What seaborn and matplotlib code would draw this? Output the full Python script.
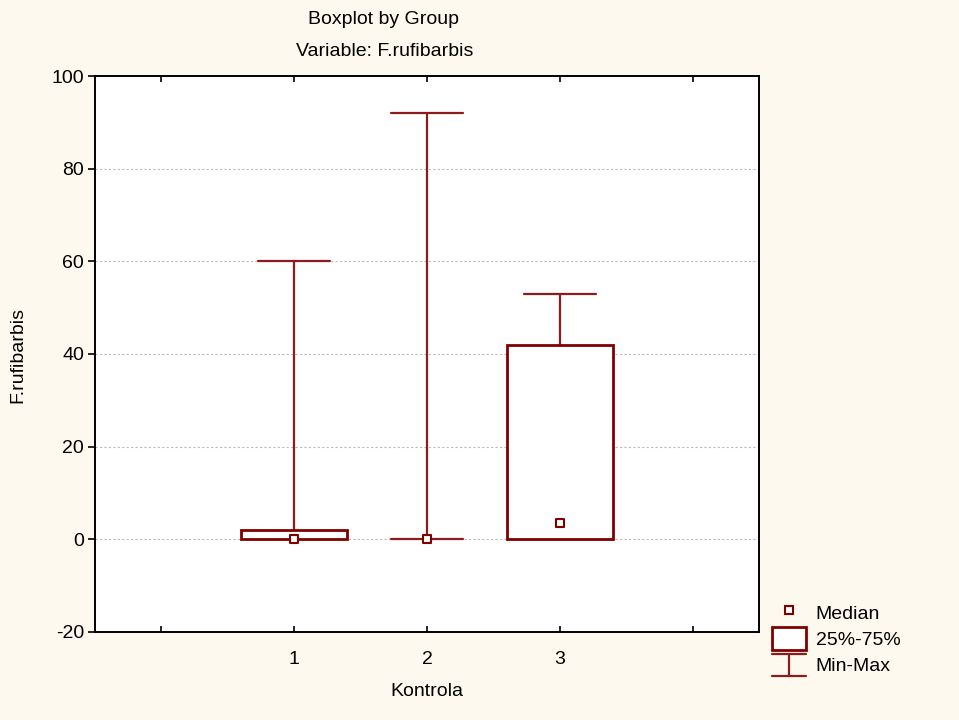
import matplotlib
matplotlib.use("Agg")
import matplotlib.pyplot as plt
from matplotlib.lines import Line2D
from matplotlib.patches import Patch
from matplotlib.legend_handler import HandlerBase
import seaborn as sns
import pandas as pd

# Summary statistics of F.rufibarbis per Kontrola group
groups = ["1", "2", "3"]
mins = [0, 0, 0]
q1 = [0, 0, 0]
medians = [0, 0, 3.6]
q3 = [2, 0, 42]
maxs = [60, 92, 53]

yticks = [-20, 0, 20, 40, 60, 80, 100]

sns.set_theme(style="white")
plt.rcParams["font.family"] = ["Liberation Sans", "DejaVu Sans"]
plt.rcParams["text.color"] = "black"
plt.rcParams["xtick.color"] = "black"
plt.rcParams["ytick.color"] = "black"

BG = "#FDF9EE"
BOX = "#800000"
WHISK = "#8E1B1B"
FS = 14

fig = plt.figure(figsize=(9.59, 7.2), dpi=100, facecolor=BG)
ax = fig.add_axes([95 / 959, 1 - 632 / 720, (759 - 95) / 959, (632 - 76) / 720])
ax.set_facecolor("white")

pos = [int(g) for g in groups]
stats = []
for g, lo, a, m, b, hi in zip(groups, mins, q1, medians, q3, maxs):
    stats.append(dict(label=g, whislo=lo, q1=a, med=m, q3=b, whishi=hi, fliers=[]))

# whiskers and caps (min-max)
ax.bxp(stats, positions=pos, widths=0.8, capwidths=0.54, showbox=False,
       showcaps=True, showfliers=False, manage_ticks=False,
       whiskerprops=dict(color=WHISK, lw=1.6),
       capprops=dict(color=WHISK, lw=1.6),
       medianprops=dict(visible=False))

# 25%-75% boxes (only where the interquartile range is non-zero)
for p, a, b in zip(pos, q1, q3):
    if b > a:
        ax.add_patch(plt.Rectangle((p - 0.4, a), 0.8, b - a, facecolor="white",
                                   edgecolor=BOX, lw=2.0, zorder=3))

# medians
df = pd.DataFrame({"pos": pos, "median": medians})
sns.scatterplot(data=df, x="pos", y="median", marker="s", s=34, color="white",
                edgecolor=BOX, linewidth=1.5, zorder=5, ax=ax, legend=False)

ax.set_xlim(-0.5, 4.5)
ax.set_ylim(-20, 100)
ax.set_xticks([0, 1, 2, 3, 4])
ax.set_xticklabels(["", "1", "2", "3", ""], fontsize=FS)
ax.set_yticks(yticks)
ax.set_yticklabels([str(v) for v in yticks], fontsize=FS)
ax.tick_params(axis="x", direction="in", top=True, bottom=True, length=4,
               width=1.2, pad=14)
ax.tick_params(axis="y", direction="out", left=True, right=False, length=5,
               width=1.2, pad=3)
ax.yaxis.grid(True, color="#BBBBBB", lw=0.8, linestyle=(0, (2, 2)))
ax.set_axisbelow(True)
for s in ax.spines.values():
    s.set_color("black")
    s.set_linewidth(1.4)

ax.set_xlabel("")
ax.set_ylabel("")
fig.text(427 / 959, 1 - 691 / 720, "Kontrola", ha="center", va="center", fontsize=FS)
fig.text(18 / 959, 1 - 355 / 720, "F.rufibarbis", ha="center", va="center",
         rotation=90, fontsize=FS)
fig.text(384 / 959, 1 - 20 / 720, "Boxplot by Group", ha="center", va="center", fontsize=FS)
fig.text(385 / 959, 1 - 51 / 720, "Variable: F.rufibarbis", ha="center", va="center",
         fontsize=FS)


class MinMaxHandler(HandlerBase):
    def create_artists(self, legend, orig_handle, xdescent, ydescent, width,
                       height, fontsize, trans):
        x0, x1 = -xdescent, -xdescent + width
        y0, y1 = -ydescent, -ydescent + height
        xm = (x0 + x1) / 2
        arts = [Line2D([x0, x1], [y1, y1]), Line2D([x0, x1], [y0, y0]),
                Line2D([xm, xm], [y0, y1])]
        for a in arts:
            a.set_color(WHISK)
            a.set_linewidth(1.6)
            a.set_transform(trans)
        return arts


class MinMaxKey:
    pass


h_med = Line2D([], [], marker="s", ls="", mfc="white", mec=BOX, mew=1.5, ms=5.5)
h_box = Patch(facecolor="white", edgecolor=BOX, lw=2.0)
h_mm = MinMaxKey()
leg = fig.legend([h_med, h_box, h_mm], ["Median", "25%-75%", "Min-Max"],
                 handler_map={MinMaxKey: MinMaxHandler()},
                 loc="upper left", bbox_to_anchor=(772 / 959, 1 - 601 / 720),
                 frameon=False, fontsize=FS, handlelength=1.75, handleheight=1.4,
                 handletextpad=0.5, labelspacing=0.2, borderaxespad=0,
                 borderpad=0)

fig.savefig("out.png", dpi=100, facecolor=BG)
